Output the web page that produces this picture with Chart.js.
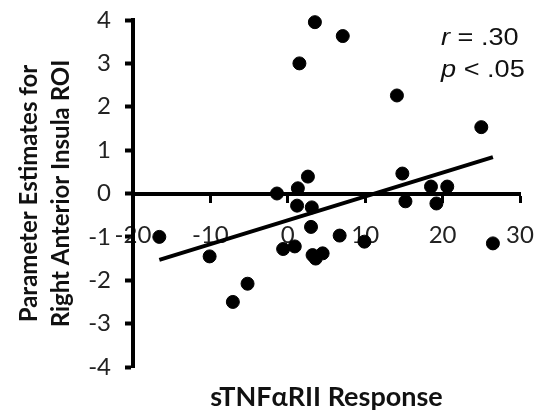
<!DOCTYPE html>
<html>
<head>
<meta charset="utf-8">
<script src="https://cdn.jsdelivr.net/npm/chart.js@4"></script>
<style>
    body { margin: 0; background: #fff; }
    #wrap { width: 536px; height: 411px; }
</style>
</head>
<body>
<div id="wrap"><canvas id="my-chart"></canvas></div>
<script>
// sTNFaRII response (x) vs right anterior insula parameter estimates (y)
const xValues = [3.5, 7.1, 1.5, 14.1, 25.0, 2.6, 14.8, 18.5, 20.6, 1.3, -1.4, 1.2, 3.1, 15.2,
    19.2, 3.0, 6.7, 9.9, 26.5, -16.6, -10.1, -0.6, 0.9, 3.2, 3.6, 4.5, -5.2, -7.1];
const yValues = [3.95, 3.63, 3.0, 2.26, 1.53, 0.39, 0.46, 0.16, 0.16, 0.12, 0.0, -0.28, -0.32, -0.18,
    -0.23, -0.77, -0.97, -1.11, -1.15, -1.0, -1.45, -1.28, -1.22, -1.42, -1.5, -1.38, -2.08, -2.5];

// fitted regression line end points
const fitX = [-16.6, 26.5];
const fitY = [-1.53, 0.84];

const xTicks = [-20, -10, 0, 10, 20, 30];
const yTicks = [-4, -3, -2, -1, 0, 1, 2, 3, 4];

const statLines = [["r", " = .30"], ["p", " < .05"]];

const points = xValues.map((x, i) => ({ x: x, y: yValues[i] }));
const fitLine = fitX.map((x, i) => ({ x: x, y: fitY[i] }));

// r / p annotation in the top right corner
const statsPlugin = {
    id: "stats",
    afterDraw(chart) {
        const ctx = chart.ctx;
        ctx.save();
        ctx.fillStyle = "#111";
        ctx.textBaseline = "alphabetic";
        statLines.forEach((line, i) => {
            ctx.save();
            ctx.translate(441, 45 + i * 32);
            ctx.scale(1.18, 1);
            ctx.font = "italic 23px 'Liberation Sans'";
            ctx.fillText(line[0], 0, 0);
            const w = ctx.measureText(line[0]).width;
            ctx.font = "23px 'Liberation Sans'";
            ctx.fillText(line[1], w, 0);
            ctx.restore();
        });
        ctx.restore();
    }
};

function noSidePadding(scale) {
    scale.paddingLeft = 0;
    scale.paddingRight = 0;
    scale.paddingTop = 0;
    scale.paddingBottom = 0;
}

const ctx = document.getElementById("my-chart").getContext("2d");

const myChart = new Chart(ctx, {
    type: "scatter",
    data: {
        datasets: [
            {
                label: "Fit",
                type: "line",
                data: fitLine,
                borderColor: "#000",
                borderWidth: 4,
                pointRadius: 0,
                fill: false
            },
            {
                label: "Participants",
                data: points,
                backgroundColor: "#000",
                borderColor: "#000",
                pointRadius: 6.5,
                pointHoverRadius: 6.5,
                clip: false
            }
        ]
    },
    options: {
        responsive: true,
        maintainAspectRatio: false,
        animation: false,
        events: [],
        layout: { padding: { top: 20, right: 16, left: 0, bottom: 0 } },
        plugins: {
            legend: { display: false },
            tooltip: { enabled: false }
        },
        scales: {
            x: {
                type: "linear",
                position: { y: 0 },
                min: -20,
                max: 30,
                afterBuildTicks: scale => {
                    scale.ticks = xTicks.map(v => ({ value: v }));
                },
                afterFit: noSidePadding,
                border: { display: true, color: "#000", width: 4 },
                grid: {
                    drawOnChartArea: false,
                    drawTicks: true,
                    tickLength: 7,
                    tickWidth: 3,
                    color: "#000"
                },
                ticks: {
                    color: "#222",
                    padding: 20,
                    maxRotation: 0,
                    font: { family: "Lato", size: 24 }
                }
            },
            x2: {
                type: "linear",
                position: "bottom",
                min: -20,
                max: 30,
                afterFit: scale => {
                    noSidePadding(scale);
                    scale.height = 44;
                },
                border: { display: false },
                grid: { display: false },
                ticks: { display: false },
                title: {
                    display: true,
                    text: "sTNFαRII Response",
                    color: "#111",
                    font: { family: "Lato", size: 27, weight: "bold", lineHeight: 1.2 },
                    padding: { top: 0, bottom: -2 }
                }
            },
            y: {
                type: "linear",
                position: "left",
                min: -4,
                max: 4,
                afterBuildTicks: scale => {
                    scale.ticks = yTicks.map(v => ({ value: v }));
                },
                afterFit: scale => {
                    noSidePadding(scale);
                    scale.width = 133;
                },
                border: { display: true, color: "#000", width: 4 },
                grid: {
                    drawOnChartArea: false,
                    drawTicks: true,
                    tickLength: 8,
                    tickWidth: 4,
                    color: "#000"
                },
                ticks: {
                    color: "#222",
                    padding: 14,
                    font: { family: "Lato", size: 24 }
                },
                title: {
                    display: true,
                    text: ["Parameter Estimates for", "Right Anterior Insula ROI"],
                    color: "#111",
                    font: { family: "Lato", size: 24, weight: "bold", lineHeight: 1.333 },
                    padding: { top: 13, bottom: 0 }
                }
            }
        }
    },
    plugins: [statsPlugin]
});
</script>
</body>
</html>
